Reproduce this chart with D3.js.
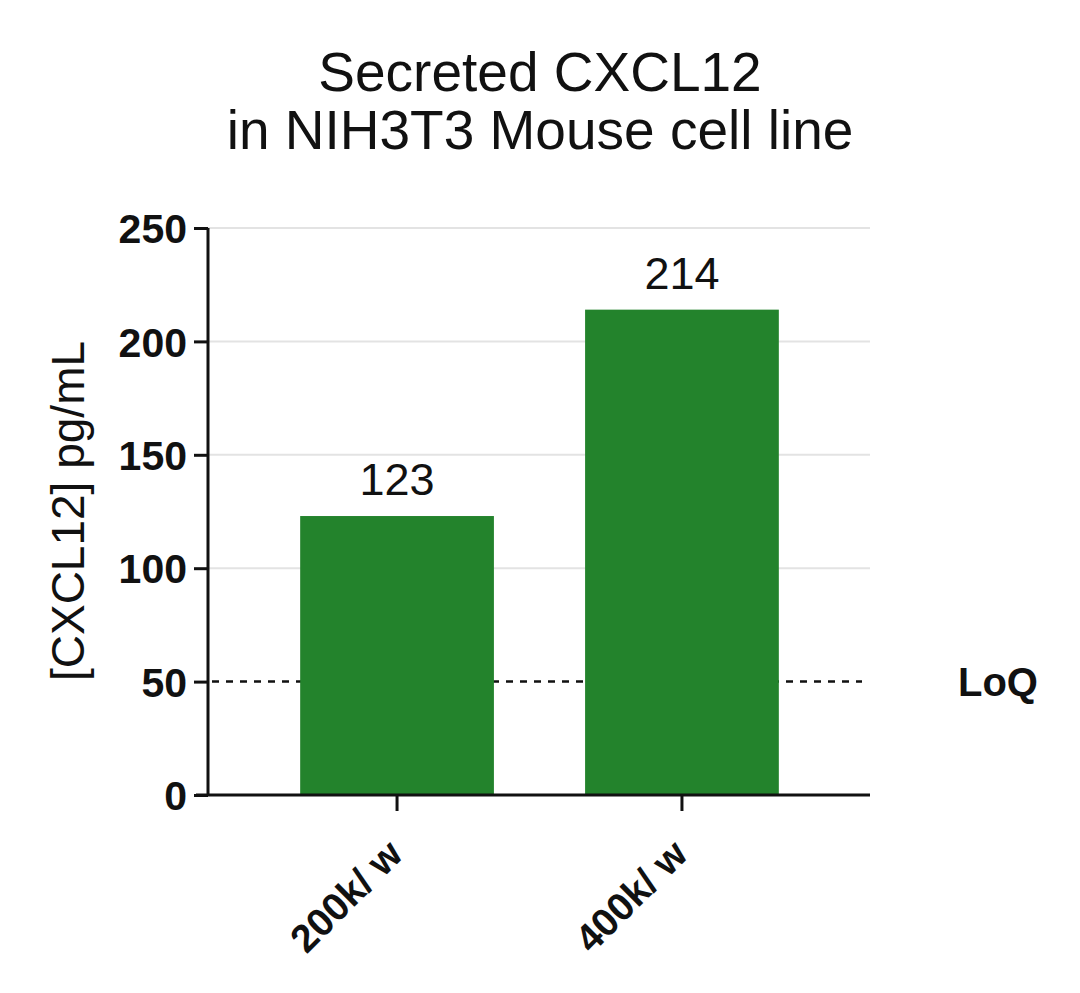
<!DOCTYPE html>
<html><head><meta charset="utf-8">
<script src="https://cdn.jsdelivr.net/npm/d3@7"></script>
<style>body{margin:0;background:#fff}svg{display:block}</style>
</head><body>
<script>
const categories = ["200k/ w", "400k/ w"];
const values = [123, 214];
const valueLabels = ["123", "214"];
const yTicks = [0, 50, 100, 150, 200, 250];
const gridValues = [100, 150, 200, 250];
const loqValue = 50;
const titleLines = ["Secreted CXCL12", "in NIH3T3 Mouse cell line"];
const yLabel = "[CXCL12] pg/mL";

(function () {
const W = 1080, H = 993;
const svg = d3.select("body").append("svg").attr("width", W).attr("height", H);
const font = "Liberation Sans, Arial, sans-serif";
const mL = 208, mR = 870, mT = 228, mB = 795;

const y = d3.scaleLinear().domain([0, 250]).range([mB, mT]);
const x = d3.scaleBand().domain(categories).range([mL + 1, mR]).paddingInner(0.32).paddingOuter(0.32);

svg.append("g").selectAll("line").data(gridValues).join("line")
  .attr("x1", mL).attr("x2", mR).attr("y1", d => y(d)).attr("y2", d => y(d))
  .attr("stroke", "#e3e3e3").attr("stroke-width", 2);

svg.append("line").attr("x1", mL + 4).attr("x2", 862).attr("y1", y(loqValue)).attr("y2", y(loqValue))
  .attr("stroke", "#111").attr("stroke-width", 2.5).attr("stroke-dasharray", "7,7");

svg.append("g").selectAll("rect").data(values).join("rect")
  .attr("x", (d, i) => x(categories[i])).attr("width", x.bandwidth())
  .attr("y", d => y(d)).attr("height", d => y(0) - y(d))
  .attr("fill", "#23832c");

svg.append("g").selectAll("text").data(values).join("text")
  .attr("x", (d, i) => x(categories[i]) + x.bandwidth() / 2)
  .attr("y", d => y(d) - 21)
  .attr("text-anchor", "middle").attr("font-family", font).attr("font-size", 45)
  .attr("fill", "#111").text((d, i) => valueLabels[i]);

const yAxis = svg.append("g").attr("transform", `translate(${mL},0)`)
  .call(d3.axisLeft(y).tickValues(yTicks).tickSize(14).tickPadding(7));
yAxis.select(".domain").attr("stroke", "#111").attr("stroke-width", 3).attr("d", `M0,${mT}V${mB}`);
yAxis.selectAll(".tick line").attr("stroke", "#111").attr("stroke-width", 3);
yAxis.selectAll(".tick text").attr("font-family", font).attr("font-size", 41).attr("font-weight", "bold")
  .attr("fill", "#111").attr("dy", "0.36em");

const xAxis = svg.append("g").attr("transform", `translate(0,${mB})`)
  .call(d3.axisBottom(x).tickSize(16).tickPadding(0));
xAxis.select(".domain").attr("stroke", "#111").attr("stroke-width", 3).attr("d", `M${mL - 12},0H${mR}`);
xAxis.selectAll(".tick line").attr("stroke", "#111").attr("stroke-width", 3);
xAxis.selectAll(".tick text").attr("font-family", font).attr("font-size", 39).attr("font-weight", "bold")
  .attr("fill", "#111").attr("text-anchor", "end").attr("y", 0).attr("dy", "0.35em")
  .attr("transform", "translate(-2,52) rotate(-45)");

svg.append("text").attr("x", 958).attr("y", y(loqValue)).attr("dy", "0.36em")
  .attr("font-family", font).attr("font-size", 40).attr("font-weight", "bold").attr("fill", "#111").text("LoQ");

svg.append("g").selectAll("text").data(titleLines).join("text")
  .attr("x", 540).attr("y", (d, i) => 91 + i * 58)
  .attr("text-anchor", "middle").attr("font-family", font).attr("font-size", 55)
  .attr("fill", "#111").text(d => d);

svg.append("text").attr("transform", `translate(84,511) rotate(-90)`)
  .attr("text-anchor", "middle").attr("font-family", font).attr("font-size", 46)
  .attr("fill", "#111").text(yLabel);
})();
</script>
</body></html>
